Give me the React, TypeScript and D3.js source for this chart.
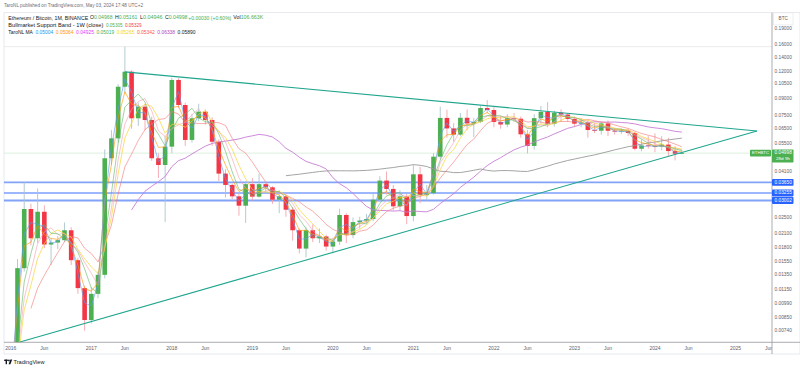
import React from 'react';
import * as d3 from 'd3';

// Monthly ETH/BTC candles, Aug 2015 .. May 2024
const firstYear = 2015;
const firstMonth = 8;
const opens = [
  0.0100, 0.0059, 0.0031, 0.0032, 0.0023,
  0.0022, 0.0060, 0.0145, 0.0274, 0.0200, 0.0266, 0.0187, 0.0191, 0.0196, 0.0218, 0.0158, 0.0117,
  0.0083, 0.0110, 0.0135, 0.0473, 0.0586, 0.1021, 0.1200, 0.0727, 0.0824, 0.0714, 0.0473, 0.0440,
  0.0536, 0.1098, 0.0839, 0.0576, 0.0727, 0.0781, 0.0714, 0.0565, 0.0401, 0.0355, 0.0314, 0.0284,
  0.0358, 0.0313, 0.0358, 0.0346, 0.0303, 0.0314, 0.0272, 0.0218, 0.0179, 0.0218, 0.0200, 0.0204,
  0.0183, 0.0193, 0.0257, 0.0207, 0.0238, 0.0242, 0.0246, 0.0303, 0.0372, 0.0340, 0.0282, 0.0314,
  0.0254, 0.0398, 0.0318, 0.0325, 0.0481, 0.0730, 0.0652, 0.0610, 0.0731, 0.0688, 0.0700, 0.0812,
  0.0795, 0.0699, 0.0680, 0.0728, 0.0724, 0.0612, 0.0540, 0.0728, 0.0779, 0.0686, 0.0772, 0.0757,
  0.0722, 0.0686, 0.0695, 0.0641, 0.0636, 0.0688, 0.0636, 0.0630, 0.0636, 0.0621, 0.0524, 0.0543,
  0.0540, 0.0536, 0.0548, 0.0511, 0.04968,
];
const highs = [
  0.0110, 0.0062, 0.0040, 0.0035, 0.0028,
  0.0065, 0.0160, 0.0366, 0.0290, 0.0342, 0.0285, 0.0200, 0.0205, 0.0237, 0.0225, 0.0162, 0.0120,
  0.0118, 0.0140, 0.0520, 0.0640, 0.1050, 0.1571, 0.1220, 0.0860, 0.0850, 0.0740, 0.0500, 0.0600,
  0.1125, 0.1120, 0.0860, 0.0760, 0.0850, 0.0800, 0.0735, 0.0580, 0.0420, 0.0360, 0.0325, 0.0370,
  0.0382, 0.0400, 0.0365, 0.0350, 0.0335, 0.0325, 0.0280, 0.0222, 0.0225, 0.0232, 0.0222, 0.0208,
  0.0200, 0.0275, 0.0262, 0.0250, 0.0252, 0.0260, 0.0322, 0.0390, 0.0410, 0.0355, 0.0335, 0.0322,
  0.0440, 0.0432, 0.0355, 0.0500, 0.0824, 0.0797, 0.0690, 0.0770, 0.0800, 0.0730, 0.0830, 0.0885,
  0.0820, 0.0745, 0.0760, 0.0770, 0.0740, 0.0640, 0.0760, 0.0830, 0.0865, 0.0790, 0.0800, 0.0770,
  0.0740, 0.0720, 0.0710, 0.0690, 0.0700, 0.0710, 0.0655, 0.0650, 0.0650, 0.0630, 0.0580, 0.0600,
  0.0618, 0.0600, 0.0590, 0.0540, 0.05161,
];
const lows = [
  0.0020, 0.0025, 0.0021, 0.0020, 0.0018,
  0.0021, 0.0058, 0.0140, 0.0185, 0.0190, 0.0180, 0.0150, 0.0178, 0.0192, 0.0150, 0.0110, 0.0074,
  0.0080, 0.0105, 0.0130, 0.0440, 0.0560, 0.0950, 0.0650, 0.0670, 0.0640, 0.0460, 0.0382, 0.0238,
  0.0500, 0.0810, 0.0540, 0.0560, 0.0705, 0.0680, 0.0540, 0.0370, 0.0310, 0.0305, 0.0255, 0.0236,
  0.0300, 0.0310, 0.0330, 0.0290, 0.0262, 0.0252, 0.0195, 0.0170, 0.0163, 0.0192, 0.0190, 0.0175,
  0.0170, 0.0186, 0.0190, 0.0200, 0.0222, 0.0235, 0.0240, 0.0295, 0.0320, 0.0270, 0.0270, 0.0233,
  0.0240, 0.0292, 0.0300, 0.0320, 0.0470, 0.0590, 0.0565, 0.0600, 0.0640, 0.0595, 0.0690, 0.0770,
  0.0660, 0.0650, 0.0660, 0.0700, 0.0590, 0.0498, 0.0520, 0.0690, 0.0660, 0.0665, 0.0700, 0.0700,
  0.0665, 0.0660, 0.0590, 0.0620, 0.0610, 0.0600, 0.0610, 0.0615, 0.0600, 0.0515, 0.0510, 0.0525,
  0.0505, 0.0515, 0.0485, 0.0462, 0.04946,
];
const closes = [
  0.0059, 0.0031, 0.0032, 0.0023, 0.0022,
  0.0060, 0.0145, 0.0274, 0.0200, 0.0266, 0.0187, 0.0191, 0.0196, 0.0218, 0.0158, 0.0117, 0.0083,
  0.0110, 0.0135, 0.0473, 0.0586, 0.1021, 0.1200, 0.0727, 0.0824, 0.0714, 0.0473, 0.0440, 0.0536,
  0.1098, 0.0839, 0.0576, 0.0727, 0.0781, 0.0714, 0.0565, 0.0401, 0.0355, 0.0314, 0.0284, 0.0358,
  0.0313, 0.0358, 0.0346, 0.0303, 0.0314, 0.0272, 0.0218, 0.0179, 0.0218, 0.0200, 0.0204, 0.0183,
  0.0193, 0.0257, 0.0207, 0.0238, 0.0242, 0.0246, 0.0303, 0.0372, 0.0340, 0.0282, 0.0314, 0.0254,
  0.0398, 0.0318, 0.0325, 0.0481, 0.0730, 0.0652, 0.0610, 0.0731, 0.0688, 0.0700, 0.0812, 0.0795,
  0.0699, 0.0680, 0.0728, 0.0724, 0.0612, 0.0540, 0.0728, 0.0779, 0.0686, 0.0772, 0.0757, 0.0722,
  0.0686, 0.0695, 0.0641, 0.0636, 0.0688, 0.0636, 0.0630, 0.0636, 0.0621, 0.0524, 0.0543, 0.0540,
  0.0536, 0.0548, 0.0511, 0.04968, 0.04998,
];

// Horizontal support levels (blue)
const levelPrices = [0.0365, 0.03255, 0.03002];
const levelLabels = ['0.03650', '0.03255', '0.03002'];
// Right price-scale ticks
const priceTicks = [0.19, 0.16, 0.14, 0.12, 0.105, 0.09, 0.075, 0.065, 0.055, 0.041, 0.025, 0.021, 0.018, 0.0155, 0.0135, 0.0115, 0.0099, 0.0085, 0.0074];
const priceTickLabels = ['0.19000', '0.16000', '0.14000', '0.12000', '0.10500', '0.09000', '0.07500', '0.06500', '0.05500', '0.04100', '0.02500', '0.02100', '0.01800', '0.01550', '0.01350', '0.01150', '0.00990', '0.00850', '0.00740'];
// Time-scale labels
const yearLabels = ['2016', '2017', '2018', '2019', '2020', '2021', '2022', '2023', '2024', '2025'];
const lastPrice = 0.04998;
const athPrice = 0.1571;
// Symmetrical triangle drawing (date, price)
const upperTrend = [{ date: '2017-06-01', price: 0.1198 }, { date: '2025-04-07', price: 0.0634 }];
const lowerTrend = [{ date: '2016-02-12', price: 0.006557 }, { date: '2025-04-07', price: 0.0634 }];

// Legend values
const ohlcLegend = [['O', '0.04968'], ['H', '0.05161'], ['L', '0.04946'], ['C', '0.04998']];
const bandLegend = ['0.05305', '0.05329'];
const maLegend = ['0.05004', '0.05064', '0.04925', '0.05019', '0.05265', '0.05342', '0.06338', '0.05890'];
const maLegendColors = ['#2196f3', '#ff9800', '#e040fb', '#4caf50', '#f2d42a', '#ff5252', '#ab47bc', '#131722'];

const UP = '#4caf50';
const DOWN = '#f23645';
const FONT = "'Liberation Sans', Arial, sans-serif";

function monthIndex(date: string) {
  const [yy, mm, dd] = date.split('-').map(Number);
  return (yy - 2016) * 12 + (mm - 1) + ((dd || 1) - 1) / 30;
}

export default function App() {
  const startIdx = (firstYear - 2016) * 12 + (firstMonth - 1);
  const idx = closes.map((_, i) => startIdx + i);

  const plotL = 4, plotR = 772, plotT = 12.7, plotB = 342.3;
  const x = d3.scaleLinear().domain([0, 100]).range([10.8, 681.8]);
  const y = d3.scaleLog().domain([0.19, 0.0074]).range([29, 330.7]);

  const sma = (n: number) => closes.map((_, i) => (i >= n - 1 ? (d3.mean(closes.slice(i - n + 1, i + 1)) as number) : null));
  const ema = (n: number) => {
    const k = 2 / (n + 1);
    let e = closes[0];
    return closes.map((c, i) => {
      e = i === 0 ? c : e + k * (c - e);
      return i >= n - 1 ? e : null;
    });
  };

  const lineGen = d3
    .line<number | null>()
    .defined((v) => v != null)
    .x((_, i) => x(idx[i]))
    .y((v) => y(v as number));

  const fastMAs = [
    { v: sma(9), c: '#f77a7a', o: 0.7 },
    { v: sma(5), c: '#f5a3b4', o: 0.7 },
    { v: sma(6), c: '#f5d53a', o: 0.8 },
    { v: sma(4), c: '#66bb6a', o: 0.7 },
    { v: ema(3), c: '#ff9800', o: 0.7 },
    { v: sma(2), c: '#5c9df5', o: 0.7 },
  ];
  const slowMAs = [
    { v: sma(24), c: '#c77dd6' },
    { v: sma(47), c: '#9a9a9a' },
  ];

  const trendPath = (pts: { date: string; price: number }[]) =>
    d3.line<{ date: string; price: number }>().x((d) => x(monthIndex(d.date))).y((d) => y(d.price))(pts) as string;

  const bodyW = 4.6;
  const timeTicks: { m: number; label: string }[] = [];
  yearLabels.forEach((lab, k) => {
    timeTicks.push({ m: k * 12, label: lab });
    timeTicks.push({ m: k * 12 + 5, label: 'Jun' });
  });

  const axisText = '#5d606b';

  return (
    <svg width={800} height={370} style={{ position: 'absolute', left: 0, top: 0, background: '#fff' }} fontFamily={FONT}>
      <defs>
        <clipPath id="plot">
          <rect x={plotL} y={plotT} width={plotR - plotL} height={plotB - plotT} />
        </clipPath>
        <clipPath id="timeaxis">
          <rect x={plotL} y={plotB} width={plotR - plotL} height={14} />
        </clipPath>
      </defs>
      <rect x={0} y={0} width={800} height={370} fill="#fff" />

      {/* snapshot header */}
      <text x={4} y={5.8} fontSize={4.7} fill="#6a6d78" dominantBaseline="middle" textLength={139} lengthAdjust="spacingAndGlyphs">
        TaroNL published on TradingView.com, May 03, 2024 17:48 UTC+2
      </text>

      {/* frame */}
      <rect x={plotL} y={plotT} width={800 - plotL} height={354 - plotT} fill="none" stroke="#e0e3eb" strokeWidth={0.8} />

      <g clipPath="url(#plot)">
        {/* faint price lines */}
        <line x1={plotL} x2={plotR} y1={y(athPrice)} y2={y(athPrice)} stroke="#e6e6e6" strokeWidth={0.8} />
        <line x1={plotL} x2={plotR} y1={y(lastPrice)} y2={y(lastPrice)} stroke="#d3ecd4" strokeWidth={0.8} />

        {/* support levels */}
        {levelPrices.map((p, k) => (
          <line key={k} x1={plotL} x2={plotR} y1={y(p)} y2={y(p)} stroke={k === 1 ? '#2962ff' : '#6d93f7'} strokeWidth={k === 1 ? 1.1 : 1.8} opacity={k === 1 ? 0.9 : 0.85} />
        ))}

        {/* candles */}
        {closes.map((c, i) => {
          const o = opens[i];
          const up = c >= o;
          const cx = x(idx[i]);
          const top = y(Math.max(o, c));
          const bot = y(Math.min(o, c));
          return (
            <g key={i}>
              <line x1={cx} x2={cx} y1={y(highs[i])} y2={y(lows[i])} stroke={up ? '#a9c5cc' : '#f3a5ad'} strokeWidth={0.9} />
              <rect x={cx - bodyW / 2} y={top} width={bodyW} height={Math.max(bot - top, 0.8)} fill={up ? UP : DOWN} />
            </g>
          );
        })}

        {/* moving averages */}
        {slowMAs.map((m, k) => (
          <path key={'s' + k} d={lineGen(m.v) as string} fill="none" stroke={m.c} strokeWidth={0.9} />
        ))}
        {fastMAs.map((m, k) => (
          <path key={'f' + k} d={lineGen(m.v) as string} fill="none" stroke={m.c} strokeWidth={0.9} opacity={m.o} />
        ))}

        {/* triangle */}
        <path d={trendPath(upperTrend)} fill="none" stroke="#1fa58e" strokeWidth={1.1} />
        <path d={trendPath(lowerTrend)} fill="none" stroke="#1fa58e" strokeWidth={1.1} />
      </g>

      {/* legend */}
      <text x={8.3} y={18.3} fontSize={4.8} fill="#131722" dominantBaseline="middle" textLength={80} lengthAdjust="spacingAndGlyphs">
        Ethereum / Bitcoin, 1M, BINANCE
      </text>
      {ohlcLegend.map(([k, v], j) => (
        <text key={k} x={90 + j * 25} y={18.3} fontSize={4.8} dominantBaseline="middle" textLength={22.5} lengthAdjust="spacingAndGlyphs">
          <tspan fill="#131722">{k}</tspan>
          <tspan fill={UP}>{v}</tspan>
        </text>
      ))}
      <text x={188.3} y={18.3} fontSize={4.8} fill={UP} dominantBaseline="middle" textLength={43} lengthAdjust="spacingAndGlyphs">
        +0.00030 (+0.60%)
      </text>
      <text x={233.3} y={18.3} fontSize={4.8} dominantBaseline="middle" textLength={30} lengthAdjust="spacingAndGlyphs">
        <tspan fill="#131722">Vol</tspan>
        <tspan fill={UP}>106.663K</tspan>
      </text>

      <text x={8.3} y={25.3} fontSize={4.8} fill="#131722" dominantBaseline="middle" textLength={95} lengthAdjust="spacingAndGlyphs">
        Bullmarket Support Band - 1W (close)
      </text>
      {bandLegend.map((v, j) => (
        <text key={v} x={106 + j * 19} y={25.3} fontSize={4.8} fill={j === 0 ? UP : DOWN} dominantBaseline="middle" textLength={16.5} lengthAdjust="spacingAndGlyphs">
          {v}
        </text>
      ))}

      <text x={8.3} y={33} fontSize={4.8} fill="#131722" dominantBaseline="middle" textLength={24.5} lengthAdjust="spacingAndGlyphs">
        TaroNL MA
      </text>
      {maLegend.map((v, j) => (
        <text key={j} x={35.5 + j * 20.3} y={33} fontSize={4.8} fill={maLegendColors[j]} dominantBaseline="middle" textLength={17.8} lengthAdjust="spacingAndGlyphs">
          {v}
        </text>
      ))}

      {/* price axis */}
      <line x1={plotR} x2={plotR} y1={plotT} y2={354} stroke="#9598a1" strokeWidth={0.8} />
      <rect x={773.5} y={12.9} width={19.5} height={12} fill="#fff" stroke="#e0e3eb" strokeWidth={0.6} />
      <text x={783.2} y={19} fontSize={4.6} fill={axisText} textAnchor="middle" dominantBaseline="middle">BTC</text>
      {priceTicks.map((p, k) => (
        <text key={k} x={774.6} y={y(p)} fontSize={4.6} fill={axisText} dominantBaseline="middle" textLength={17.2} lengthAdjust="spacingAndGlyphs">
          {priceTickLabels[k]}
        </text>
      ))}
      {levelPrices.map((p, k) => (
        <g key={'lv' + k}>
          <rect x={772} y={y(p) - 3.4} width={21.5} height={6.8} fill="#2962ff" rx={0.8} />
          <text x={774.6} y={y(p) + 0.2} fontSize={4.6} fill="#fff" dominantBaseline="middle" textLength={17.2} lengthAdjust="spacingAndGlyphs">
            {levelLabels[k]}
          </text>
        </g>
      ))}
      {/* last price label */}
      <rect x={772} y={y(lastPrice) - 3.6} width={21.5} height={13} fill={UP} rx={0.8} />
      <text x={774.6} y={y(lastPrice) + 0.1} fontSize={4.6} fill="#fff" dominantBaseline="middle" textLength={17.2} lengthAdjust="spacingAndGlyphs">
        0.04998
      </text>
      <text x={776} y={y(lastPrice) + 6.2} fontSize={4.4} fill="#fff" dominantBaseline="middle" textLength={14} lengthAdjust="spacingAndGlyphs">
        28d 9h
      </text>
      <rect x={750} y={y(lastPrice) - 3.4} width={21} height={6.8} fill={UP} rx={0.8} />
      <text x={760.5} y={y(lastPrice) + 0.1} fontSize={4.3} fill="#fff" textAnchor="middle" dominantBaseline="middle">
        ETHBTC
      </text>

      {/* time axis */}
      <line x1={plotL} x2={800} y1={plotB} y2={plotB} stroke="#9598a1" strokeWidth={0.8} />
      <g clipPath="url(#timeaxis)">
        {timeTicks.map((t, k) => (
          <text key={k} x={x(t.m)} y={348.4} fontSize={5} fill={axisText} textAnchor="middle" dominantBaseline="middle">
            {t.label}
          </text>
        ))}
      </g>

      {/* TradingView mark */}
      <g fill="#131722">
        <rect x={4.2} y={359.6} width={3.6} height={1.4} />
        <rect x={5.6} y={359.6} width={1.4} height={4.6} />
        <circle cx={8.9} cy={360.4} r={0.85} />
        <path d="M10.4 359.6 L12.2 359.6 L10.4 364.2 L8.6 364.2 Z" />
      </g>
      <text x={13.5} y={362.2} fontSize={5.6} fill="#131722" dominantBaseline="middle" textLength={31} lengthAdjust="spacingAndGlyphs">
        TradingView
      </text>
    </svg>
  );
}
